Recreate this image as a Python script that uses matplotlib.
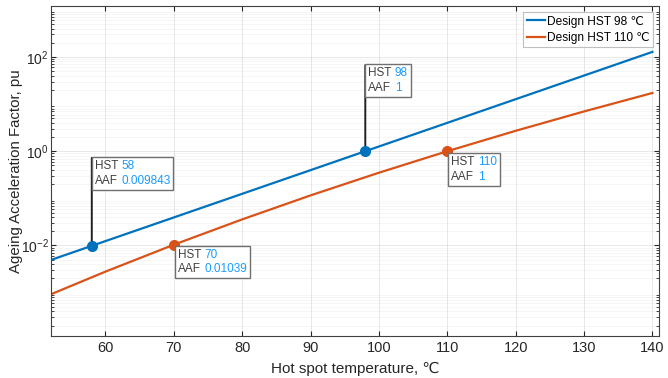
import numpy as np
import matplotlib.pyplot as plt
from matplotlib.patches import Rectangle

plt.rcParams['font.family'] = ['Liberation Sans', 'DejaVu Sans']

# Ageing acceleration factor
hst_98 = [52, 140]
aaf_98 = [0.00492, 128.0]

hst_110 = [52, 60, 70, 80, 90, 100, 110, 120, 130, 140]
aaf_110 = [0.00092, 0.00279, 0.01039, 0.0358, 0.1156, 0.350, 1.0, 2.71, 6.98, 17.2]

# data tips: (curve, HST, AAF, label text, box offset in pixels)
tips = [
    ('98', 58, 0.009843, '0.009843', (3, 86)),
    ('98', 98, 1, '1', (3, 84)),
    ('110', 70, 0.01039, '0.01039', (4, -4)),
    ('110', 110, 1, '1', (4, -5)),
]

blue = '#0072BD'
orange = '#D95319'
tip_blue = '#1A9BFF'
tip_grey = '#404040'

fig = plt.figure(figsize=(6.68, 3.78), dpi=100)
ax = fig.add_axes([0.076, 0.111, 0.911, 0.873])

ax.semilogy(hst_98, aaf_98, color=blue, lw=1.6, label='Design HST 98 ℃')
ax.semilogy(hst_110, aaf_110, color=orange, lw=1.6, label='Design HST 110 ℃')

ax.set_xlim(52, 141)
ax.set_ylim(1.2e-4, 1.2e3)
ax.set_xticks(np.arange(60, 141, 10))
ax.set_yticks([1e-2, 1e0, 1e2])
ax.set_yticks([m * 10.0**e for e in range(-4, 4) for m in range(2, 10)
               if 1.2e-4 <= m * 10.0**e <= 1.2e3], minor=True)
ax.tick_params(which='both', direction='in', labelsize=10.5, colors='#262626',
               top=True, right=True)
ax.tick_params(axis='y', labelsize=10, pad=1.5)
ax.tick_params(which='minor', length=2, labelleft=False)
ax.grid(True, which='major', color='#262626', alpha=0.12, lw=0.6)
ax.grid(True, which='minor', color='#262626', alpha=0.06, lw=0.5)
ax.grid(True, which='minor', axis='x', alpha=0)
for s in ax.spines.values():
    s.set_color('#404040')
    s.set_linewidth(0.8)

ax.set_xlabel('Hot spot temperature, ℃', fontsize=11, color='#262626', labelpad=5)
ax.set_ylabel('Ageing Acceleration Factor, pu', fontsize=10.8, color='#262626')
ax.yaxis.set_label_coords(-0.046, 0.5)

leg = ax.legend(loc='upper right', fontsize=8.6, frameon=True, fancybox=False,
                borderpad=0.3, handlelength=1.5, handletextpad=0.2,
                labelspacing=0.35, borderaxespad=0.5)
leg.get_frame().set_edgecolor('#b0b0b0')
leg.get_frame().set_linewidth(0.8)

tip_texts = []
for curve, x, y, val, (dx, dy) in tips:
    col = blue if curve == '98' else orange
    ax.plot(x, y, 'o', color=col, ms=7, zorder=5)
    if dy > 0:
        ax.annotate('', xy=(x, y), xytext=(0, dy + 2), textcoords='offset pixels',
                    arrowprops=dict(arrowstyle='-', color='#202020', lw=1.4,
                                    shrinkA=0, shrinkB=0), zorder=4)
    lab = ax.annotate('HST\nAAF', xy=(x, y), xytext=(dx, dy),
                      textcoords='offset pixels', ha='left', va='top', fontsize=8.5,
                      color=tip_grey, linespacing=1.3, zorder=7)
    num = ax.annotate(f'{x}\n{val}', xy=(1, 1), xycoords=lab, xytext=(3, 0),
                      textcoords='offset pixels', ha='left', va='top', fontsize=8.5,
                      color=tip_blue, linespacing=1.3, zorder=7)
    tip_texts.append((lab, num))

# white boxes behind the data tip texts, sized from the rendered text
fig.canvas.draw()
r = fig.canvas.get_renderer()
inv = ax.transAxes.inverted()
for lab, num in tip_texts:
    b1 = lab.get_window_extent(r)
    b2 = num.get_window_extent(r)
    x0, y0 = min(b1.x0, b2.x0) - 3, min(b1.y0, b2.y0) - 3
    x1, y1 = max(b1.x1, b2.x1) + 3, max(b1.y1, b2.y1) + 3
    (ax0, ay0), (ax1, ay1) = inv.transform([(x0, y0), (x1, y1)])
    ax.add_patch(Rectangle((ax0, ay0), ax1 - ax0, ay1 - ay0, transform=ax.transAxes,
                           fc='white', ec='#707070', lw=1, zorder=6, clip_on=False))

fig.savefig('out.png', dpi=100)
